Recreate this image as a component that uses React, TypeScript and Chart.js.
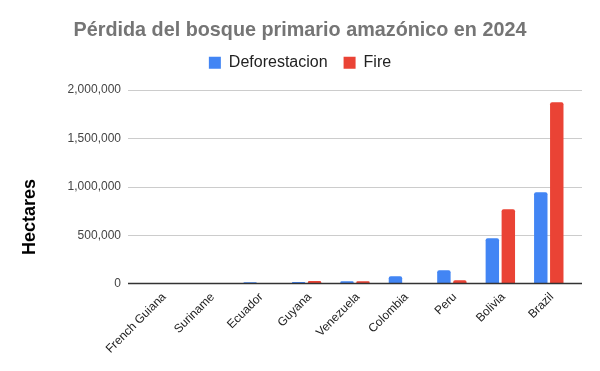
import React, { useEffect, useRef } from "react";
import { Chart, registerables } from "chart.js";

Chart.register(...registerables);

const categories = ["French Guiana", "Suriname", "Ecuador", "Guyana", "Venezuela", "Colombia", "Peru", "Bolivia", "Brazil"];
const deforestacion = [1000, 8000, 18000, 20000, 28000, 80000, 141000, 471000, 945000];
const fire = [0, 0, 0, 30000, 28000, 0, 38000, 770000, 1873000];
const seriesNames = ["Deforestacion", "Fire"];
const titleText = "Pérdida del bosque primario amazónico en 2024";
const yAxisTitle = "Hectares";

const FONT = "Arial, 'Liberation Sans', sans-serif";

const extGridPlugin = {
  id: "extGrid",
  beforeDatasetsDraw(chart: any) {
    const { ctx, chartArea, scales } = chart;
    const y = scales.y;
    const left = chartArea.left - 9;
    const right = chartArea.right + 9;
    ctx.save();
    y.ticks.forEach((t: any) => {
      const py = Math.round(y.getPixelForValue(t.value)) + 0.5;
      if (t.value === 0) return;
      ctx.strokeStyle = "#cccccc";
      ctx.lineWidth = 1;
      ctx.beginPath();
      ctx.moveTo(left, py);
      ctx.lineTo(right, py);
      ctx.stroke();
    });
    ctx.restore();
  },
  afterDatasetsDraw(chart: any) {
    const { ctx, chartArea, scales } = chart;
    const y = scales.y;
    const py = Math.round(y.getPixelForValue(0)) - 0.5;
    ctx.save();
    ctx.strokeStyle = "#333333";
    ctx.lineWidth = 1.5;
    ctx.beginPath();
    ctx.moveTo(chartArea.left - 9, py);
    ctx.lineTo(chartArea.right + 9, py);
    ctx.stroke();
    // y axis title
    ctx.translate(30, chartArea.bottom - 67);
    ctx.rotate(-Math.PI / 2);
    ctx.fillStyle = "#000000";
    ctx.font = "bold 18px " + FONT;
    ctx.textAlign = "center";
    ctx.textBaseline = "middle";
    ctx.fillText(yAxisTitle, 0, 0);
    ctx.restore();
  },
};

const legendSpacePlugin = {
  id: "legendSpace",
  beforeInit(chart: any) {
    const orig = chart.legend.fit;
    chart.legend.fit = function () {
      orig.bind(this)();
      this.height += 9;
    };
  },
};

export default function App() {
  const ref = useRef<HTMLCanvasElement>(null);
  useEffect(() => {
    document.body.style.margin = "0";
    const chart = new Chart(ref.current!, {
      type: "bar",
      data: {
        labels: categories,
        datasets: [
          {
            label: seriesNames[0],
            data: deforestacion,
            backgroundColor: "#4285F4",
            borderRadius: 2,
            categoryPercentage: 0.66,
            barPercentage: 0.84,
          },
          {
            label: seriesNames[1],
            data: fire,
            backgroundColor: "#EA4335",
            borderRadius: 2,
            categoryPercentage: 0.66,
            barPercentage: 0.84,
          },
        ],
      },
      plugins: [extGridPlugin, legendSpacePlugin],
      options: {
        responsive: false,
        animation: false,
        layout: { padding: { left: 0, right: 0, top: 0, bottom: 0 } },
        plugins: {
          title: {
            display: true,
            text: titleText,
            color: "#757575",
            font: { family: FONT, size: 19.8, weight: "bold", lineHeight: 0.85 },
            padding: { top: 22, bottom: 0 },
          },
          legend: {
            display: true,
            position: "top",
            labels: {
              boxWidth: 12,
              boxHeight: 12,
              padding: 16,
              color: "#222222",
              font: { family: FONT, size: 16 },
            },
          },
          tooltip: { enabled: false },
        },
        scales: {
          x: {
            grid: { display: false, drawTicks: false },
            border: { display: false },
            ticks: {
              color: "#222222",
              font: { family: FONT, size: 12 },
              minRotation: 45,
              maxRotation: 45,
              padding: 6,
              labelOffset: 3,
              autoSkip: false,
            },
            afterFit(scale: any) {
              scale.height = 87;
            },
          },
          y: {
            min: 0,
            max: 2000000,
            grid: { display: false, drawTicks: false },
            border: { display: false },
            ticks: {
              stepSize: 500000,
              color: "#444444",
              font: { family: FONT, size: 12 },
              padding: 16,
              callback: (v: any) => Number(v).toLocaleString("en-US"),
            },
            afterFit(scale: any) {
              scale.width = 137;
            },
          },
          yRight: {
            position: "right",
            min: 0,
            max: 1,
            grid: { display: false, drawTicks: false },
            border: { display: false },
            ticks: { display: false },
            afterFit(scale: any) {
              scale.width = 27;
            },
          },
        },
      },
    });
    return () => chart.destroy();
  }, []);
  return (
    <div style={{ position: "absolute", left: 0, top: 0, width: 600, height: 371 }}>
      <canvas ref={ref} width={600} height={371} style={{ display: "block", width: 600, height: 371 }} />
    </div>
  );
}
